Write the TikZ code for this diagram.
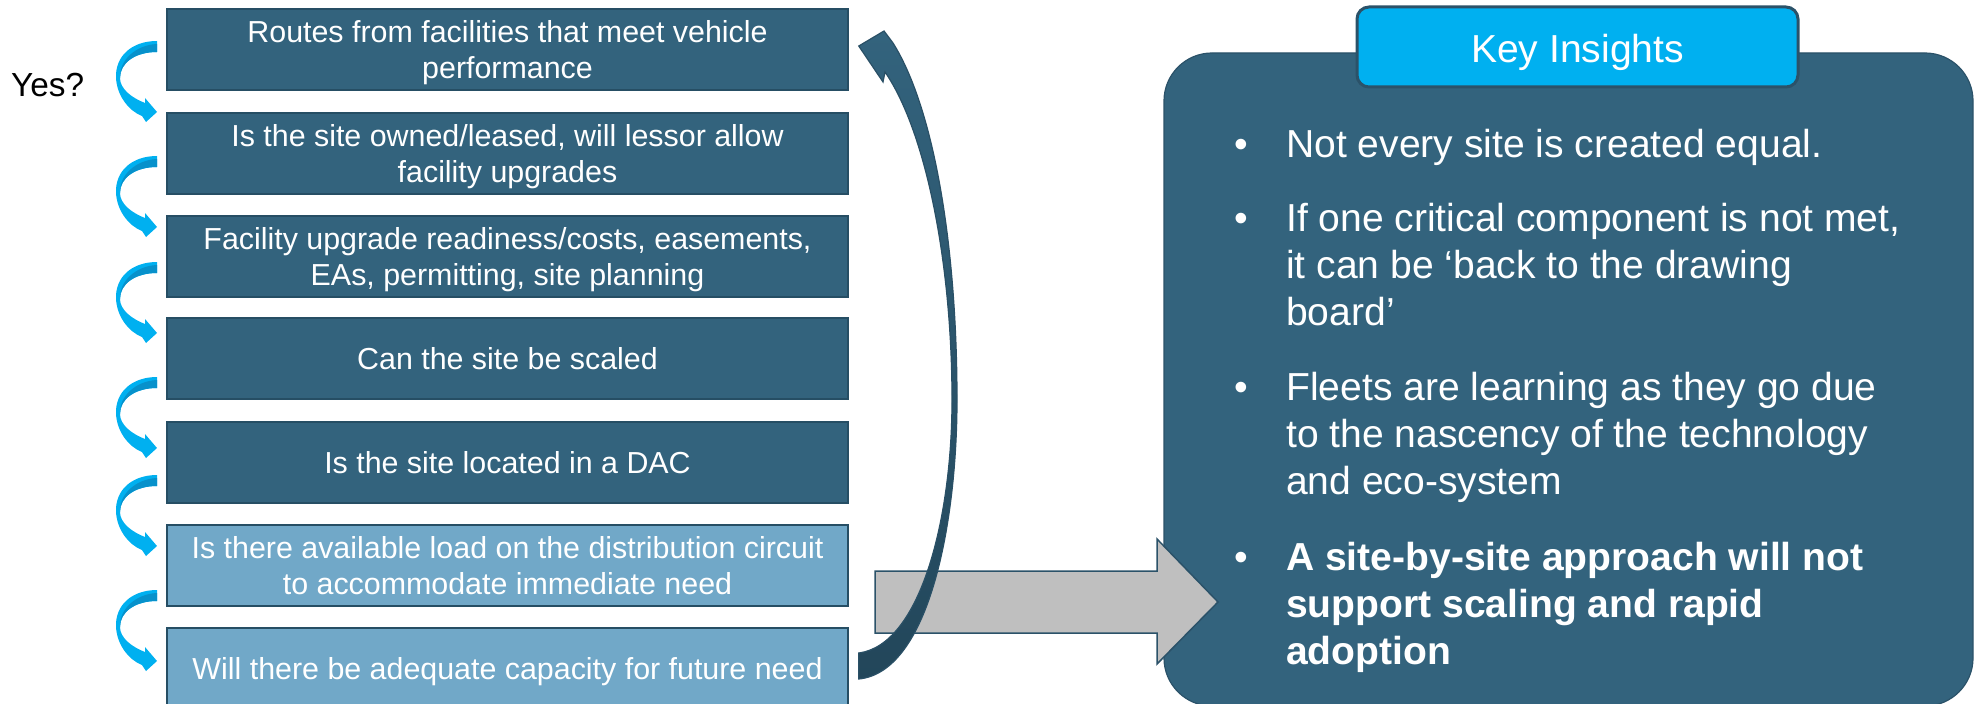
\documentclass[tikz,border=0pt]{standalone}
\usepackage{fontspec}
\setmainfont{Liberation Sans}
\usetikzlibrary{calc}

% palette
\definecolor{stepdark}{HTML}{33637D}
\definecolor{steplight}{HTML}{71A8C8}
\definecolor{stepedge}{HTML}{264E64}
\definecolor{hopcyan}{HTML}{00B0F0}
\definecolor{hopshade}{HTML}{0791CB}
\definecolor{panelfill}{HTML}{33637D}
\definecolor{paneledge}{HTML}{2B5269}
\definecolor{grayfill}{HTML}{BFBFBF}
\definecolor{loopedge}{HTML}{2A5066}

% stacked lines: centred rows / left-aligned rows, baseline on the first row
\newcommand\centerrows[1]{\vtop{\lineskiplimit=-200bp\halign{\hfil##\hfil\cr#1\crcr}}}
\newcommand\leftrows[1]{\vtop{\lineskiplimit=-200bp\halign{##\hfil\cr#1\crcr}}}

\tikzset{
  stepbox/.style={draw=stepedge, line width=1.5bp, minimum width=681bp,
    minimum height=81bp, inner sep=0pt},
  steptext/.style={anchor=base, inner sep=0pt, text=white,
    font=\fontsize{30.5}{36}\selectfont},
  bullettext/.style={anchor=base west, inner sep=0pt, text=white,
    font=\fontsize{39.2}{47.5}\selectfont},
  bulletdot/.style={anchor=base, inner sep=0pt, text=white,
    font=\fontsize{39.2}{47.5}\selectfont},
  hop/.pic={
    \fill[hopcyan] (0,0) .. controls (-25,0) and (-42,15) .. (-41,37)
      .. controls (-40,55) and (-28,70) .. (-15,75) -- (-11,81) -- (0,71)
      -- (-12,57) -- (-12,62) .. controls (-25,57) and (-37,48) .. (-37,37)
      .. controls (-37,22) and (-22,11) .. (0,11) -- cycle;
    \fill[hopshade] (0,3) -- (0,11) .. controls (-22,11) and (-37,22) .. (-37,37)
      .. controls (-38,20) and (-22,4) .. (0,3) -- cycle;
  }
}

\begin{document}
\begin{tikzpicture}[x=1bp,y=-1bp]
\useasboundingbox (0,0) rectangle (1980,704);

% question label
\node[anchor=base west, inner sep=0pt, font=\fontsize{33.5}{40}\selectfont]
  (yes) at (11,97) {Yes?};

% the checklist
\node[stepbox, fill=stepdark]  (b1) at (507.5,49.5)  {};
\node[stepbox, fill=stepdark]  (b2) at (507.5,153.5) {};
\node[stepbox, fill=stepdark]  (b3) at (507.5,256.5) {};
\node[stepbox, fill=stepdark]  (b4) at (507.5,358.5) {};
\node[stepbox, fill=stepdark]  (b5) at (507.5,462.5) {};
\node[stepbox, fill=steplight] (b6) at (507.5,565.5) {};
\node[stepbox, fill=steplight] (b7) at (507.5,668.5) {};

\node[steptext] (t1) at (507.5,42.5)
  {\centerrows{Routes from facilities that meet vehicle\cr performance}};
\node[steptext] (t2) at (507.5,146.5)
  {\centerrows{Is the site owned/leased, will lessor allow\cr facility upgrades}};
\node[steptext] (t3) at (507.5,249.5)
  {\centerrows{Facility upgrade readiness/costs, easements,\cr EAs, permitting, site planning}};
\node[steptext] (t4) at (507.5,369.5) {Can the site be scaled};
\node[steptext] (t5) at (507.5,473.5) {Is the site located in a DAC};
\node[steptext] (t6) at (507.5,558.5)
  {\centerrows{Is there available load on the distribution circuit\cr to accommodate immediate need}};
\node[steptext] (t7) at (507.5,679.5) {Will there be adequate capacity for future need};

% curved hops from one step to the next
\coordinate (h1) at (157,41);
\coordinate (h2) at (157,156);
\coordinate (h3) at (157,262);
\coordinate (h4) at (157,377);
\coordinate (h5) at (157,475);
\coordinate (h6) at (157,590);
\foreach \h in {h1,h2,h3,h4,h5,h6} \pic at (\h) {hop};

% insights panel
\node[draw=paneledge, line width=1.2bp, fill=panelfill, rounded corners=48bp,
  minimum width=809bp, minimum height=653bp, inner sep=0pt]
  (insights) at (1568.5,379.5) {};
\node[draw=paneledge, line width=3bp, fill=hopcyan, rounded corners=12bp,
  minimum width=441bp, minimum height=80bp, inner sep=0pt]
  (tab) at (1577.5,47) {};
\node[anchor=base, inner sep=0pt, text=white, font=\fontsize{39.2}{47.5}\selectfont]
  (tabtext) at (1577.5,63) {Key Insights};

\node[bulletdot] (d1) at (1241,158) {•};
\node[bullettext] (p1) at (1286,158) {Not every site is created equal.};
\node[bulletdot] (d2) at (1241,231) {•};
\node[bullettext] (p2) at (1286,231)
  {\leftrows{If one critical component is not met,\cr it can be ‘back to the drawing\cr board’}};
\node[bulletdot] (d3) at (1241,400) {•};
\node[bullettext] (p3) at (1286,400)
  {\leftrows{Fleets are learning as they go due\cr to the nascency of the technology\cr and eco-system}};
\node[bulletdot] (d4) at (1241,570) {•};
\node[bullettext, font=\fontsize{39.2}{47.5}\selectfont\bfseries] (p4) at (1286,570)
  {\leftrows{A site-by-site approach will not\cr support scaling and rapid\cr adoption}};

% block arrow into the panel
\draw[draw=paneledge, line width=1.5bp, fill=grayfill]
  (875,571) -- (1157,571) -- (1157,539) -- (1218,602) -- (1157,664)
  -- (1157,633) -- (875,633) -- cycle;

% loop back from the last step to the first
\coordinate (taillow)  at ([xshift=10bp,yshift=-10.5bp]b7.east);
\coordinate (tailhigh) at ([xshift=10bp,yshift=15.5bp]b7.east);
\coordinate (looptip)  at ([xshift=10bp,yshift=3.5bp]b1.east);
\shade[top color=stepdark, bottom color=stepedge!90!black, draw=loopedge, line width=1.2bp]
  (taillow) .. controls (930,672) and (957,520) .. (957,400)
  .. controls (957,250) and (935,110) .. (893,43)
  -- (884,31) -- (looptip) -- (883,82) -- (885,72)
  .. controls (925,130) and (952,260) .. (952,400)
  .. controls (952,520) and (920,645) .. (tailhigh) -- cycle;
\end{tikzpicture}
\end{document}
